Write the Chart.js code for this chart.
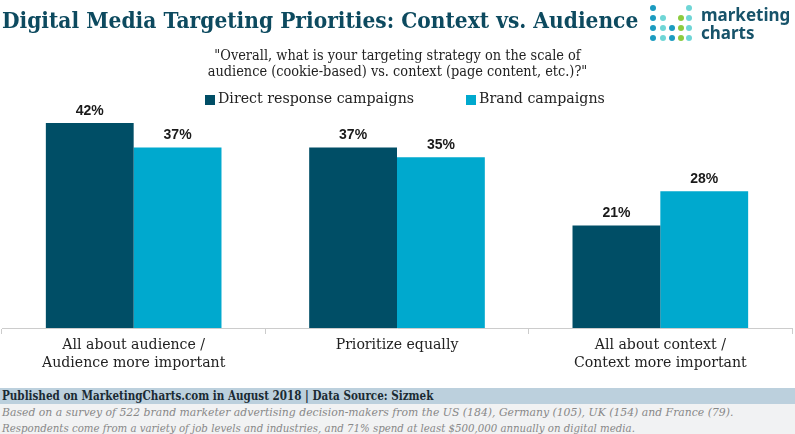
<!DOCTYPE html>
<html>
<head>
<meta charset="utf-8">
<script src="https://cdn.jsdelivr.net/npm/chart.js@4"></script>
<style>
html, body { margin: 0; padding: 0; background: #fff; }
#wrap { position: relative; width: 795px; height: 434px; overflow: hidden; font-family: "DejaVu Serif", serif; }
#wrap canvas { position: absolute; left: 0; top: 0; }
.t { position: absolute; white-space: nowrap; transform-origin: left top; }
#title { left: 2px; top: 6px; font-size: 23px; font-weight: bold; color: #0d4a5f; transform: scaleX(0.879); }
#question { left: 0; width: 795px; top: 47px; text-align: center; font-size: 14px; line-height: 16px; color: #222; transform-origin: center top; transform: scaleX(0.925); }
#legend { left: 205px; top: 90px; font-size: 14.2px; color: #222; }
#legend span.box { position: absolute; top: 5px; width: 10px; height: 10px; }
#legend span.lab { position: absolute; top: 0; }
#band { position: absolute; left: 0; top: 388px; width: 795px; height: 16px; background: #bcd0dd; }
#notes { position: absolute; left: 0; top: 404px; width: 795px; height: 30px; background: #f1f2f3; }
#source { left: 2px; top: 388px; font-size: 12.6px; font-weight: bold; color: #1a2a33; line-height: 16px; transform: scaleX(0.825); }
#note1 { left: 2px; top: 405px; font-size: 11.6px; font-style: italic; color: #888888; line-height: 15px; transform: scaleX(0.935); }
#note2 { left: 2px; top: 421px; font-size: 11.6px; font-style: italic; color: #888888; line-height: 15px; transform: scaleX(0.88); }
#logo { position: absolute; left: 644px; top: 0; }
#logotext { left: 701px; top: 6px; font-size: 17px; line-height: 18px; font-weight: bold; color: #17536a; font-family: "Noto Sans", sans-serif; }
</style>
</head>
<body>
<div id="wrap">
  <canvas id="chart" width="795" height="434"></canvas>
  <div class="t" id="title">Digital Media Targeting Priorities: Context vs. Audience</div>
  <svg id="logo" width="56" height="46">
    <g fill="#1b9bc0">
      <circle cx="9" cy="8" r="3"/><circle cx="9" cy="18" r="3"/><circle cx="9" cy="28" r="3"/><circle cx="9" cy="38" r="3"/>
      <circle cx="28" cy="28" r="3"/><circle cx="28" cy="38" r="3"/>
    </g>
    <g fill="#6fd6d6">
      <circle cx="19" cy="18" r="3"/><circle cx="19" cy="28" r="3"/><circle cx="19" cy="38" r="3"/>
      <circle cx="45" cy="8" r="3"/><circle cx="45" cy="18" r="3"/><circle cx="45" cy="28" r="3"/><circle cx="45" cy="38" r="3"/>
    </g>
    <g fill="#8ccb3f">
      <circle cx="37" cy="18" r="3"/><circle cx="37" cy="28" r="3"/><circle cx="37" cy="38" r="3"/>
    </g>
  </svg>
  <div class="t" id="logotext">marketing<br>charts</div>
  <div class="t" id="question">"Overall, what is your targeting strategy on the scale of<br>audience (cookie-based) vs. context (page content, etc.)?"</div>
  <div class="t" id="legend"></div>
  <div id="band"></div>
  <div id="notes"></div>
  <div class="t" id="source">Published on MarketingCharts.com in August 2018 | Data Source: Sizmek</div>
  <div class="t" id="note1">Based on a survey of 522 brand marketer advertising decision-makers from the US (184), Germany (105), UK (154) and France (79).</div>
  <div class="t" id="note2">Respondents come from a variety of job levels and industries, and 71% spend at least $500,000 annually on digital media.</div>
</div>
<script>
const categories = [
    ['All about audience /', 'Audience more important'],
    'Prioritize equally',
    ['All about context /', 'Context more important']
];
const seriesNames = ['Direct response campaigns', 'Brand campaigns'];
const directResponse = [42, 37, 21];
const brand = [37, 35, 28];
const seriesColors = ['#004e66', '#00a9ce'];

// data labels above each bar
const barLabels = {
    id: 'barLabels',
    afterDatasetsDraw(chart) {
        const ctx = chart.ctx;
        ctx.save();
        ctx.font = 'bold 14px "Liberation Sans", sans-serif';
        ctx.fillStyle = '#1a1a1a';
        ctx.textAlign = 'center';
        ctx.textBaseline = 'bottom';
        chart.data.datasets.forEach(function (ds, i) {
            chart.getDatasetMeta(i).data.forEach(function (bar, j) {
                ctx.fillText(ds.data[j] + '%', bar.x, bar.y - 5);
            });
        });
        ctx.restore();
    }
};

// legend is html so the spacing can follow the picture
const legendEl = document.getElementById('legend');
const legendX = [[0, 13], [261, 274]];
seriesNames.forEach(function (name, i) {
    legendEl.innerHTML += '<span class="box" style="left:' + legendX[i][0] + 'px;background:' + seriesColors[i] + '"></span>' +
        '<span class="lab" style="left:' + legendX[i][1] + 'px">' + name + '</span>';
});

const myChart = new Chart(document.getElementById('chart').getContext('2d'), {
    type: 'bar',
    data: {
        labels: categories,
        datasets: [{
            label: seriesNames[0],
            data: directResponse,
            backgroundColor: seriesColors[0],
            categoryPercentage: 0.667,
            barPercentage: 1
        }, {
            label: seriesNames[1],
            data: brand,
            backgroundColor: seriesColors[1],
            categoryPercentage: 0.667,
            barPercentage: 1
        }]
    },
    options: {
        responsive: false,
        animation: false,
        layout: {
            padding: { left: 2, right: 3, top: 84, bottom: 0 }
        },
        scales: {
            x: {
                grid: {
                    drawOnChartArea: false,
                    color: '#cccccc',
                    tickLength: 6
                },
                border: { color: '#cccccc', dash: [2, 2] },
                ticks: {
                    color: '#222222',
                    font: { family: 'DejaVu Serif', size: 14.1, lineHeight: 1.27 },
                    maxRotation: 0,
                    autoSkip: false,
                    padding: 2
                },
                afterFit: function (axis) { axis.height = 106; }
            },
            y: {
                display: false,
                min: 0,
                max: 50
            }
        },
        plugins: {
            legend: { display: false },
            tooltip: { enabled: false }
        }
    },
    plugins: [barLabels]
});
</script>
</body>
</html>
